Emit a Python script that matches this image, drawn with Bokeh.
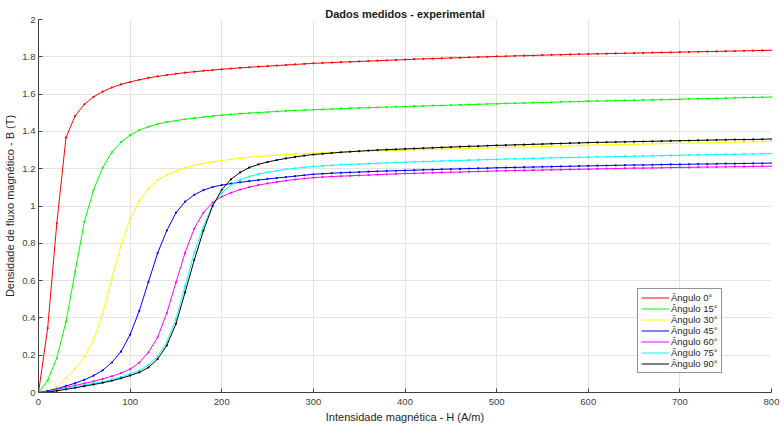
from bokeh.plotting import figure
from bokeh.models import FixedTicker, Legend, LegendItem, Range1d
from bokeh.embed import file_html
from bokeh.resources import INLINE

# Magnetic field intensity H (A/m)
H = list(range(0, 801, 10))

b_0 = [0, 0.345, 0.907, 1.367, 1.483, 1.545, 1.585, 1.613, 1.635, 1.652, 1.665, 1.677, 1.687, 1.695, 1.702, 1.709,
       1.715, 1.720, 1.725, 1.729, 1.733, 1.737, 1.741, 1.744, 1.747, 1.750, 1.753, 1.756, 1.759, 1.762, 1.765,
       1.767, 1.769, 1.771, 1.773, 1.775, 1.777, 1.779, 1.781, 1.783, 1.785, 1.787, 1.789, 1.790, 1.792, 1.794,
       1.795, 1.797, 1.799, 1.800, 1.802, 1.803, 1.805, 1.806, 1.807, 1.809, 1.810, 1.811, 1.813, 1.814, 1.815,
       1.816, 1.817, 1.818, 1.819, 1.820, 1.821, 1.822, 1.823, 1.824, 1.825, 1.826, 1.827, 1.828, 1.829, 1.830,
       1.831, 1.832, 1.833, 1.834, 1.835]
b_15 = [0, 0.065, 0.185, 0.380, 0.648, 0.915, 1.085, 1.205, 1.288, 1.342, 1.380, 1.407, 1.425, 1.439, 1.450, 1.458,
        1.465, 1.471, 1.477, 1.482, 1.487, 1.491, 1.495, 1.498, 1.501, 1.504, 1.507, 1.510, 1.512, 1.514, 1.516,
        1.518, 1.520, 1.522, 1.524, 1.526, 1.527, 1.529, 1.530, 1.532, 1.533, 1.535, 1.536, 1.538, 1.539, 1.541,
        1.542, 1.544, 1.545, 1.547, 1.548, 1.550, 1.551, 1.552, 1.554, 1.555, 1.556, 1.558, 1.559, 1.560, 1.562,
        1.563, 1.564, 1.565, 1.566, 1.567, 1.568, 1.569, 1.570, 1.571, 1.572, 1.574, 1.575, 1.576, 1.577, 1.578,
        1.580, 1.581, 1.582, 1.583, 1.584]
b_30 = [0, 0.008, 0.030, 0.078, 0.127, 0.190, 0.280, 0.420, 0.610, 0.786, 0.930, 1.027, 1.094, 1.138, 1.166, 1.188,
        1.205, 1.218, 1.228, 1.237, 1.244, 1.250, 1.256, 1.261, 1.265, 1.269, 1.272, 1.275, 1.278, 1.281, 1.284,
        1.286, 1.288, 1.290, 1.292, 1.293, 1.295, 1.296, 1.297, 1.298, 1.300, 1.301, 1.302, 1.304, 1.305, 1.306,
        1.307, 1.309, 1.310, 1.311, 1.313, 1.314, 1.315, 1.316, 1.318, 1.319, 1.320, 1.322, 1.323, 1.324, 1.326,
        1.327, 1.328, 1.329, 1.330, 1.331, 1.332, 1.333, 1.334, 1.335, 1.336, 1.337, 1.338, 1.339, 1.340, 1.341,
        1.342, 1.343, 1.344, 1.345, 1.346]
b_45 = [0, 0.009, 0.020, 0.035, 0.050, 0.068, 0.090, 0.119, 0.161, 0.219, 0.310, 0.438, 0.593, 0.747, 0.868, 0.964,
        1.023, 1.060, 1.085, 1.102, 1.112, 1.120, 1.127, 1.133, 1.139, 1.145, 1.150, 1.155, 1.160, 1.165, 1.170,
        1.173, 1.176, 1.178, 1.180, 1.182, 1.184, 1.186, 1.188, 1.189, 1.191, 1.192, 1.194, 1.195, 1.197, 1.198,
        1.199, 1.201, 1.202, 1.203, 1.205, 1.206, 1.207, 1.208, 1.209, 1.210, 1.211, 1.212, 1.213, 1.214, 1.215,
        1.216, 1.217, 1.218, 1.219, 1.220, 1.220, 1.221, 1.222, 1.223, 1.223, 1.224, 1.225, 1.225, 1.226, 1.227,
        1.227, 1.228, 1.229, 1.229, 1.230]
b_60 = [0, 0.005, 0.016, 0.027, 0.038, 0.049, 0.060, 0.073, 0.087, 0.104, 0.125, 0.160, 0.215, 0.296, 0.425, 0.590,
        0.750, 0.879, 0.965, 1.018, 1.050, 1.071, 1.088, 1.101, 1.112, 1.121, 1.129, 1.136, 1.142, 1.147, 1.152,
        1.155, 1.158, 1.160, 1.162, 1.164, 1.166, 1.168, 1.170, 1.172, 1.174, 1.175, 1.177, 1.178, 1.180, 1.181,
        1.182, 1.184, 1.185, 1.186, 1.188, 1.189, 1.190, 1.191, 1.192, 1.193, 1.194, 1.195, 1.196, 1.197, 1.198,
        1.199, 1.200, 1.201, 1.202, 1.203, 1.203, 1.204, 1.205, 1.206, 1.207, 1.207, 1.208, 1.209, 1.209, 1.210,
        1.211, 1.211, 1.212, 1.213, 1.213]
b_75 = [0, 0.004, 0.013, 0.022, 0.031, 0.040, 0.049, 0.058, 0.069, 0.083, 0.100, 0.118, 0.148, 0.193, 0.270, 0.393,
        0.571, 0.750, 0.890, 1.005, 1.070, 1.112, 1.140, 1.158, 1.171, 1.181, 1.189, 1.196, 1.202, 1.207, 1.212,
        1.215, 1.218, 1.221, 1.223, 1.225, 1.227, 1.229, 1.231, 1.233, 1.235, 1.237, 1.238, 1.240, 1.241, 1.243,
        1.244, 1.246, 1.247, 1.249, 1.250, 1.252, 1.253, 1.254, 1.255, 1.257, 1.258, 1.259, 1.260, 1.261, 1.262,
        1.263, 1.264, 1.265, 1.266, 1.267, 1.268, 1.269, 1.270, 1.271, 1.272, 1.273, 1.274, 1.275, 1.276, 1.277,
        1.277, 1.278, 1.279, 1.280, 1.281]
b_90 = [0, 0.002, 0.009, 0.017, 0.025, 0.034, 0.043, 0.052, 0.063, 0.076, 0.091, 0.108, 0.134, 0.179, 0.252, 0.368,
        0.537, 0.710, 0.868, 1.000, 1.087, 1.143, 1.180, 1.206, 1.223, 1.236, 1.246, 1.255, 1.263, 1.270, 1.276,
        1.280, 1.284, 1.288, 1.291, 1.294, 1.297, 1.300, 1.302, 1.304, 1.306, 1.308, 1.310, 1.312, 1.314, 1.316,
        1.318, 1.320, 1.321, 1.323, 1.325, 1.326, 1.328, 1.329, 1.331, 1.332, 1.334, 1.335, 1.337, 1.338, 1.340,
        1.341, 1.342, 1.343, 1.344, 1.345, 1.346, 1.347, 1.348, 1.349, 1.350, 1.351, 1.352, 1.353, 1.354, 1.355,
        1.356, 1.356, 1.357, 1.358, 1.359]

series_names = ["Ângulo 0°", "Ângulo 15°", "Ângulo 30°", "Ângulo 45°", "Ângulo 60°", "Ângulo 75°", "Ângulo 90°"]
series_values = [b_0, b_15, b_30, b_45, b_60, b_75, b_90]
series_colors = ["#ff0000", "#00ff00", "#ffff00", "#0000ff", "#ff00ff", "#00ffff", "#000000"]

x_ticks = [0, 100, 200, 300, 400, 500, 600, 700, 800]
y_ticks = [0, 0.2, 0.4, 0.6, 0.8, 1.0, 1.2, 1.4, 1.6, 1.8, 2.0]
y_tick_labels = ["0", "0.2", "0.4", "0.6", "0.8", "1", "1.2", "1.4", "1.6", "1.8", "2"]

FONT = "Liberation Sans"
AXC = "#404040"

p = figure(width=784, height=425, output_backend="svg", toolbar_location=None,
           x_range=Range1d(0, 800), y_range=Range1d(0, 2),
           min_border_left=38, min_border_right=13, min_border_top=19, min_border_bottom=33)
p.outline_line_color = None
p.background_fill_color = "white"

p.title.text = "Dados medidos - experimental"
p.title.align = "center"
p.title.text_font = FONT
p.title.text_font_size = "11px"
p.title.text_font_style = "bold"
p.title.text_color = "#1a1a1a"
p.title.standoff = 0

for ax in (p.xaxis[0], p.yaxis[0]):
    ax.major_tick_in = 4
    ax.major_tick_out = 0
    ax.minor_tick_line_color = None
    ax.axis_line_color = AXC
    ax.major_tick_line_color = AXC
    ax.major_label_text_font = FONT
    ax.major_label_text_font_size = "9.5px"
    ax.major_label_text_color = AXC
    ax.axis_label_text_font = FONT
    ax.axis_label_text_font_size = "11px"
    ax.axis_label_text_font_style = "normal"
    ax.axis_label_text_color = "#262626"

p.xaxis.ticker = FixedTicker(ticks=x_ticks)
p.yaxis.ticker = FixedTicker(ticks=y_ticks)
p.yaxis.major_label_overrides = {t: s for t, s in zip(y_ticks, y_tick_labels)}
p.xaxis.axis_label = "Intensidade magnética - H (A/m)"
p.yaxis.axis_label = "Densidade de fluxo magnético - B (T)"
p.xaxis.major_label_standoff = 6
p.yaxis.major_label_standoff = 3
p.xaxis.axis_label_standoff = 3
p.yaxis.axis_label_standoff = 3

p.xgrid.grid_line_color = "#e3e3e3"
p.ygrid.grid_line_color = "#e3e3e3"

items = []
for name, vals, col in zip(series_names, series_values, series_colors):
    r1 = p.line(H, vals, line_color=col, line_width=1)
    r2 = p.scatter(H, vals, size=2.2, marker="circle", fill_color=col, line_color=None)
    items.append(LegendItem(label=name, renderers=[r1]))

legend = Legend(items=items, location=(599, 19))
legend.label_text_font = FONT
legend.label_text_font_size = "9.5px"
legend.label_text_color = "#262626"
legend.glyph_width = 28
legend.glyph_height = 11
legend.label_height = 11
legend.label_standoff = 2
legend.spacing = 0
legend.padding = 3
legend.margin = 0
legend.border_line_color = "#262626"
legend.border_line_width = 1
legend.background_fill_color = "white"
legend.background_fill_alpha = 1
p.add_layout(legend)

open("out.html", "w").write(file_html(p, INLINE))
